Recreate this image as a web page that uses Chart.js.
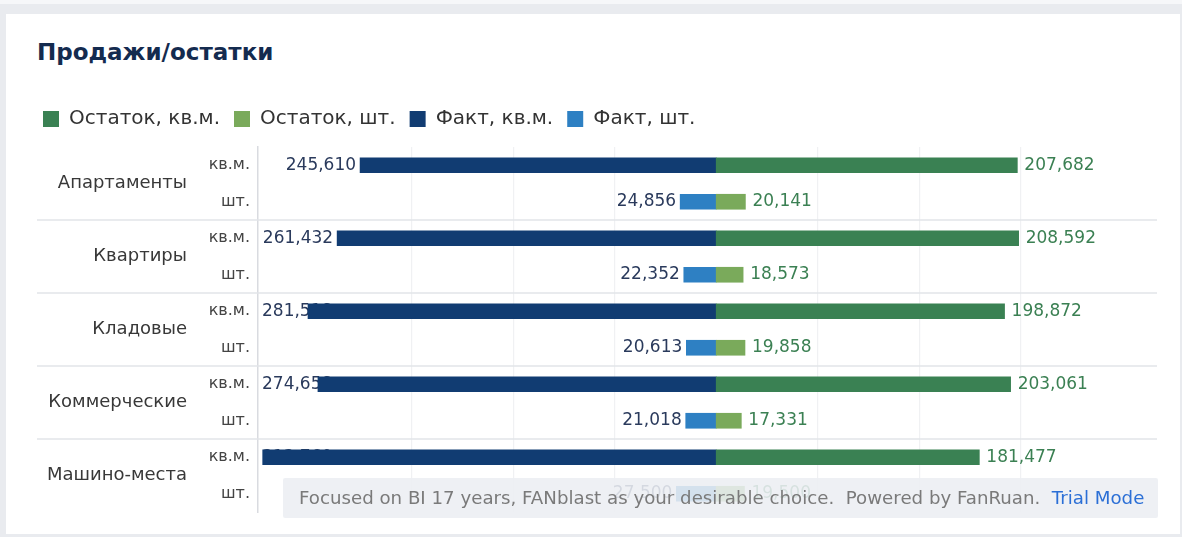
<!DOCTYPE html>
<html><head><meta charset="utf-8">
<script src="https://cdn.jsdelivr.net/npm/chart.js@4.4.1/dist/chart.umd.min.js"></script>
<style>
html,body{margin:0;padding:0;}
body{width:1182px;height:537px;background:#e9ebef;position:relative;overflow:hidden;font-family:"DejaVu Sans",sans-serif;}
#topline{position:absolute;left:0;top:0;width:1182px;height:4px;background:#f6f7f9;}
#panel{position:absolute;left:6px;top:14px;width:1174px;height:520px;background:#fff;}
#title{position:absolute;left:37px;top:36px;font-weight:bold;font-size:23px;font-family:"DejaVu Sans";color:#142b4f;line-height:32px;}
#wrap{position:absolute;left:0;top:0;width:1182px;height:537px;}
#wm{position:absolute;left:283px;top:478px;width:875px;height:40px;background:rgba(236,238,243,0.88);border-radius:2px;font-family:"DejaVu Sans",sans-serif;font-size:18.2px;line-height:40px;color:#7a7a7a;white-space:pre;box-sizing:border-box;padding-left:16px;}
#wm span{color:#2b6fd6;}
</style></head>
<body>
<div id="topline"></div>
<div id="panel"></div>
<div id="title">Продажи/остатки</div>
<div id="wrap"><canvas id="c" width="1182" height="537"></canvas></div>
<div id="wm">Focused on BI 17 years, FANblast as your desirable choice.  Powered by FanRuan.  <span>Trial Mode</span></div>
<script>
const categories = ['Апартаменты','Квартиры','Кладовые','Коммерческие','Машино-места'];
const subLabels = ['кв.м.','шт.'];
const factSqm = [245610, 261432, 281518, 274658, 312760];
const factPcs = [24856, 22352, 20613, 21018, 27500];
const restSqm = [207682, 208592, 198872, 203061, 181477];
const restPcs = [20141, 18573, 19858, 17331, 19500];
const gridTicks = [-210000, -140000, -70000, 70000, 140000, 210000];

const rowLabels = [];
categories.forEach(c => subLabels.forEach(s => rowLabels.push(c + '|' + s)));
function rows(arr, sub, sign) {
  const out = [];
  arr.forEach(v => { out.push(sub === 0 ? sign * v : null); out.push(sub === 1 ? sign * v : null); });
  return out;
}
const fmt = v => Math.abs(v).toLocaleString('en-US');

const valueLabels = {
  id: 'valueLabels',
  drawLabels(chart, negative) {
    const ctx = chart.ctx, area = chart.chartArea;
    ctx.save();
    ctx.font = '17px "DejaVu Sans"';
    ctx.textBaseline = 'middle';
    ctx.textAlign = 'left';
    chart.data.datasets.forEach((ds, di) => {
      const meta = chart.getDatasetMeta(di);
      if (meta.hidden) return;
      meta.data.forEach((bar, i) => {
        const v = ds.data[i];
        if (v === null || v === undefined) return;
        const t = fmt(v);
        const w = ctx.measureText(t).width;
        if (v < 0 && negative) {
          ctx.fillStyle = '#2a3a5c';
          ctx.fillText(t, Math.max(area.left + 4, bar.x - 4 - w), bar.y);
        } else if (v > 0 && !negative) {
          ctx.fillStyle = '#3b8053';
          ctx.fillText(t, bar.x + 7, bar.y);
        }
      });
    });
    ctx.restore();
  },
  beforeDatasetsDraw(chart) { this.drawLabels(chart, true); },
  afterDatasetsDraw(chart) { this.drawLabels(chart, false); }
};

const groupDecor = {
  id: 'groupDecor',
  beforeDatasetsDraw(chart) {
    const ctx = chart.ctx, y = chart.scales.y, area = chart.chartArea;
    ctx.save();
    ctx.strokeStyle = '#e2e4e8';
    ctx.lineWidth = 1.5;
    for (let k = 1; k < categories.length; k++) {
      const yy = (y.getPixelForValue(2 * k - 1) + y.getPixelForValue(2 * k)) / 2;
      ctx.beginPath(); ctx.moveTo(37, yy); ctx.lineTo(area.right, yy); ctx.stroke();
    }
    ctx.fillStyle = '#383838';
    ctx.font = '18px "DejaVu Sans"';
    ctx.textAlign = 'right';
    ctx.textBaseline = 'middle';
    categories.forEach((c, k) => {
      const yy = (y.getPixelForValue(2 * k) + y.getPixelForValue(2 * k + 1)) / 2;
      ctx.fillText(c, 187, yy);
    });
    ctx.restore();
  }
};

const legendGap = {
  id: 'legendGap',
  beforeInit(chart) {
    const orig = chart.legend.fit;
    chart.legend.fit = function () { orig.bind(chart.legend)(); this.height += 8; };
  }
};

new Chart(document.getElementById('c'), {
  type: 'bar',
  data: {
    labels: rowLabels,
    datasets: [
      { label: 'Остаток, кв.м.', data: rows(restSqm, 0, 1), backgroundColor: '#3a8153' },
      { label: 'Остаток, шт.', data: rows(restPcs, 1, 1), backgroundColor: '#7aaa5b' },
      { label: 'Факт, кв.м.', data: rows(factSqm, 0, -1), backgroundColor: '#113c72' },
      { label: 'Факт, шт.', data: rows(factPcs, 1, -1), backgroundColor: '#2e80c3' }
    ]
  },
  options: {
    indexAxis: 'y',
    responsive: false,
    animation: false,
    barThickness: 15,
    layout: { padding: { left: 29, right: 25, top: 95, bottom: 25 } },
    plugins: {
      title: { display: false },
      tooltip: { enabled: false },
      legend: {
        display: true,
        position: 'top',
        align: 'start',
        labels: { boxWidth: 16, boxHeight: 16, padding: 14, color: '#333', font: { size: 20, family: '"DejaVu Sans"' } }
      }
    },
    scales: {
      x: {
        stacked: true,
        min: -316000,
        max: 304000,
        afterBuildTicks: s => { s.ticks = gridTicks.map(v => ({ value: v })); },
        ticks: { display: false },
        grid: { color: '#f0f1f3', lineWidth: 1.2, drawTicks: false },
        border: { display: false }
      },
      y: {
        stacked: true,
        afterFit: s => { s.width = 229; },
        ticks: {
          padding: 8,
          color: '#444',
          font: { size: 16, family: '"DejaVu Sans"' },
          callback: function (v, i) { return subLabels[i % 2]; }
        },
        grid: { display: false, drawTicks: false },
        border: { display: true, color: '#d9dbe0', width: 1.5 }
      }
    }
  },
  plugins: [valueLabels, groupDecor, legendGap]
});
</script>
</body></html>
